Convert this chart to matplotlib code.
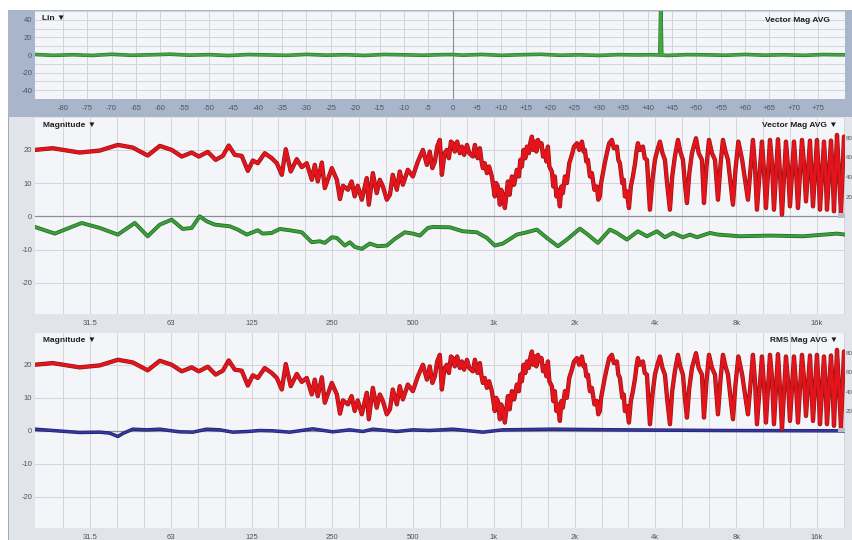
import matplotlib
matplotlib.use("Agg")
import matplotlib.pyplot as plt
from matplotlib.patches import Rectangle
from matplotlib import patheffects as pe

plt.rcParams['font.family'] = ['Liberation Sans', 'DejaVu Sans']
plt.rcParams['axes.unicode_minus'] = False

W, H = 853, 540

# ---------------- data ----------------
# impulse response (ms, linear %)
ir_time_ms = [-85.7, -82, -78, -74, -70, -66, -62, -58, -54, -50, -46, -42, -38, -34,
              -30, -26, -22, -18, -14, -10, -6, -2, 0, 2, 6, 10, 14, 18, 22, 26, 30,
              34, 38, 41, 42.5, 42.7, 42.9, 44, 48, 52, 56, 60, 64, 68, 72, 76, 80.5]
ir_level = [0.6, -0.4, 0.3, -0.5, 0.8, -0.3, 0.2, 0.9, -0.2, 0.4, -0.6, 0.5, 0.1, -0.4,
            0.7, -0.2, 0.3, -0.5, 0.6, 0.2, -0.3, 0.4, 0.5, -0.2, 0.6, -0.4, 0.3, 0.8,
            -0.3, 0.2, -0.5, 0.4, 0.1, 0.3, 0.0, 60.0, 0.0, -0.5, 0.4, 0.2, -0.3, 0.6,
            -0.2, 0.3, -0.4, 0.5, 0.2]

# measured magnitude (Hz, dB)
red_freq = [19.5, 22.7, 28.6, 34.0, 39.7, 45.1, 51.3, 56.9, 63.0, 68.7, 74.8, 79.5, 85.9,
            91.9, 97.7, 102.8, 108.3, 114.9, 121.1, 126.4, 131.9, 140, 148.7, 155.3, 162.1,
            167.7, 175, 184.3, 192.4, 200.8, 209.7, 215.1, 220.7, 228.5, 234.4, 249, 260,
            267, 274, 286, 295, 303, 311, 322, 336, 342, 354, 366, 376, 386, 399, 410, 420,
            435, 446, 458, 478, 499, 521, 544, 563, 577, 590, 603, 615, 629, 640, 655, 668,
            680, 692, 703, 715, 730, 747, 760, 775, 794, 810, 835, 850, 870, 887, 900, 910,
            925, 942, 960, 983, 995, 1008, 1020, 1035, 1053, 1065, 1080, 1099, 1128, 1145,
            1167, 1190, 1218, 1240, 1255, 1272, 1290, 1310, 1328, 1350, 1370, 1386, 1400,
            1422, 1440, 1460, 1484, 1505, 1525, 1550, 1570, 1590, 1610, 1645, 1665, 1688,
            1710, 1733, 1762, 1785, 1808, 1840, 1871, 1910, 1953, 1990, 2039, 2080, 2129,
            2160, 2184, 2210, 2241, 2280, 2319, 2370, 2421, 2450, 2484, 2510, 2549, 2590,
            2637, 2690, 2753, 2800, 2874, 2910, 2949, 3010, 3050, 3078, 3130, 3187, 3240,
            3297, 3360, 3400, 3442, 3500, 3593, 3650, 3719, 3770, 3816, 3900, 3984, 4070,
            4158, 4250, 4341, 4420, 4531, 4620, 4727, 4853, 4950, 5066, 5150, 5243, 5350,
            5473, 5665, 5800, 5964, 6067, 6200, 6334, 6500, 6669, 6842, 7000, 7141, 7300,
            7455, 7781, 7950, 8150, 8420, 8849, 9237, 9400, 9560, 9979, 10150, 10328, 10690,
            10880, 11062, 11449, 11650, 11849, 12262, 12480, 12690, 13134, 13360, 13593,
            14068, 14310, 14560, 15068, 15260, 15462, 16000, 16200, 16418, 16991, 17200,
            17434, 18043, 18280, 18514, 18997, 19330, 19659, 20173, 20350]
red_db = [20.0, 20.5, 19.2, 19.8, 21.5, 20.7, 18.3, 21.2, 20.0, 18.0, 19.2, 18.0, 19.4,
          17.0, 18.2, 21.3, 18.5, 18.2, 13.7, 16.8, 16.0, 19.0, 17.5, 16.0, 12.5,
          20.2, 13.5, 17.2, 14.8, 16.0, 11.0, 15.5, 10.5, 16.2, 8.5, 14.5, 11.0,
          5.2, 9.2, 8.0, 10.5, 6.0, 9.2, 5.0, 11.5, 3.5, 13.0, 7.0, 11.0, 9.0, 5.0, 6.5, 12.5,
          8.0, 13.5, 9.5, 14.0, 12.0, 16.5, 20.0, 15.5, 19.5, 14.5, 16.5, 21.0, 23.0, 12.5, 19.0, 20.0,
          17.5, 22.5, 22.0, 19.5, 22.5, 19.0, 21.0, 18.5, 21.5, 19.0, 18.0, 21.5, 17.5, 20.5, 16.5, 14.5,
          16.0, 13.0, 15.0, 12.0, 9.0, 6.0, 10.0, 9.0, 3.5, 8.0, 6.5, 2.5, 10.5, 6.5,
          12.0, 9.5, 14.0, 12.0, 17.0, 15.0, 20.0, 17.5, 21.0, 19.0, 22.5, 24.0, 20.0,
          22.5, 19.5, 23.0, 21.0, 22.0, 18.0, 19.5, 16.5, 21.0, 15.0, 13.5, 9.0, 12.0,
          6.0, 8.0, 3.0, 9.0, 7.0, 12.0, 10.0, 16.0, 18.5, 21.0, 22.0, 20.0, 22.5,
          19.5, 20.0, 16.5, 17.0, 12.0, 13.0, 8.0, 9.0, 5.0, 6.0, 10.0, 13.0, 16.0,
          19.0, 22.0, 23.0, 20.5, 21.0, 17.0, 16.0, 10.0, 11.0, 6.0, 7.5, 2.5, 9.0,
          12.0, 16.0, 19.5, 22.0, 20.0, 21.0, 17.5, 17.0, 9.0, 2.0, 11.0, 17.0, 20.0,
          22.5, 19.0, 17.0, 10.0, 2.0, 12.0, 18.0, 23.0, 19.5, 17.0, 10.0, 4.0, 13.0,
          19.0, 23.5, 19.0, 17.0, 4.0, 15.0, 23.0, 19.0, 17.0, 5.0, 16.0, 23.0, 19.5,
          17.0, 3.5, 14.0, 22.5, 17.0, 5.0, 23.0, 15.0, 2.0, 22.5, 14.0, 2.5, 23.0,
          16.0, 2.0, 23.2, 13.0, 0.5, 22.5, 15.0, 3.0, 22.5, 14.0, 2.5,
          23.0, 16.0, 4.5, 22.8, 13.0, 3.0, 23.0, 14.0, 2.0, 22.5, 15.0,
          2.0, 22.8, 14.0, 1.5, 24.5, 13.0, 1.0, 24.0, 22.0]

# vector-average trace (Hz, dB)
green_freq = [19.5, 23.1, 29.1, 34.0, 39.7, 45.9, 51.3, 56.9, 63.0, 69.3, 74.8, 80.1, 85.1,
              91.2, 103.7, 111.1, 120, 131.9, 137.6, 148.7, 159.3, 173.6, 192.4, 209.7,
              224.5, 234.4, 249, 260, 278.4, 290.6, 303, 322, 344.9, 369.4, 399, 427.5,
              465.9, 499, 530, 567.6, 592.4, 685, 766, 864, 942, 1008, 1080, 1218, 1328,
              1446, 1576, 1733, 1871, 2092, 2241, 2441, 2707, 2874, 3132, 3442, 3719, 4052,
              4341, 4648, 5066, 5379, 5712, 6386, 6842, 7389, 8262, 10690, 14190, 18997, 20350]
green_db = [-3.2, -5.2, -2.0, -3.5, -5.5, -2.0, -6.0, -2.5, -1.0, -3.8, -3.5, 0.0, -1.5,
            -2.5, -3.0, -4.0, -5.5, -4.2, -5.2, -5.0, -3.8, -4.2, -4.8, -7.8,
            -7.5, -8.0, -6.3, -6.5, -8.8, -7.8, -9.2, -9.8, -8.2, -9.0, -8.8, -6.8,
            -4.8, -5.2, -5.8, -3.5, -3.2, -3.3, -4.5, -4.8, -6.5, -8.8, -8.2, -5.5, -4.8,
            -4.0, -6.5, -9.0, -7.0, -3.7, -5.5, -8.0, -4.0, -5.0, -7.0, -4.5, -6.0, -4.5,
            -6.3, -5.0, -6.3, -5.5, -6.3, -5.0, -5.5, -5.7, -6.0, -5.8, -6.0, -5.2, -5.5]

# RMS-average trace (Hz, dB)
blue_freq = [19.5, 22.7, 28.6, 34.0, 37.0, 39.7, 41.7, 45.1, 50.9, 56.9, 63.0, 67.5, 75.5,
             85.1, 95.2, 106.4, 121.1, 134.1, 150, 173.6, 211.5, 251, 290.6, 324.9, 354,
             435, 499, 577, 703, 910, 1080, 1659, 2949, 6960, 20000, 20350]
blue_db = [0.5, 0.1, -0.5, -0.4, -0.7, -1.7, -0.7, 0.5, 0.3, 0.5, 0.0, -0.3, -0.4,
           0.5, 0.3, -0.4, -0.2, 0.1, 0.0, -0.4, 0.6, -0.3, 0.3, -0.2, 0.5,
           -0.2, 0.3, 0.1, 0.5, -0.4, 0.3, 0.5, 0.3, 0.1, 0.0, 0.0]

time_ticks = list(range(-80, 80, 5))
time_labels = [("+%d" % t) if t > 0 else str(t) for t in time_ticks]
freq_ticks = [31.25, 62.5, 125, 250, 500, 1000, 2000, 4000, 8000, 16000]
freq_labels = ['31.5', '63', '125', '250', '500', '1k', '2k', '4k', '8k', '16k']
coh_ticks = [20, 40, 60, 80]
coh_labels = ['20', '40', '60', '80']

# ---------------- styling ----------------
FRAME_TOP = '#a9b5cb'
FRAME_LOW = '#e1e4ea'
PLOT_BG = '#f4f5f8'
GRID = '#d2d5dc'
TICK = '#555555'
TITLE = '#1e1e1e'

fig = plt.figure(figsize=(W / 100, H / 100), dpi=100)
fig.patch.set_facecolor('white')


def frac_rect(x0, y0, x1, y1):
    return [x0 / W, 1 - y1 / H, (x1 - x0) / W, (y1 - y0) / H]


def band(x0, y0, x1, y1, color, z=0):
    fig.add_artist(Rectangle((x0 / W, 1 - y1 / H), (x1 - x0) / W, (y1 - y0) / H,
                             transform=fig.transFigure, facecolor=color,
                             edgecolor='none', zorder=z))


band(8, 10, 853, 117, FRAME_TOP)
band(8, 117, 853, 540, FRAME_LOW)
band(8, 117, 9, 540, '#a4a9b2', z=1)


def base_axes(rect):
    ax = fig.add_axes(frac_rect(*rect))
    ax.set_facecolor(PLOT_BG)
    for s in ax.spines.values():
        s.set_visible(False)
    ax.tick_params(which='both', length=0, labelsize=5.5, labelcolor=TICK)
    ax.set_axisbelow(True)
    return ax


def stroke(width, color):
    return [pe.Stroke(linewidth=width, foreground=color), pe.Normal()]


# ---- impulse response panel ----
ax_t = base_axes((35, 11, 845, 99))
ax_t.set_xlim(-85.7, 80.5)
ax_t.set_ylim(-50, 50)
ax_t.set_xticks(time_ticks)
ax_t.set_xticklabels(time_labels)
ax_t.set_yticks([-40, -20, 0, 20, 40])
ax_t.set_yticks(range(-50, 51, 10), minor=True)
ax_t.grid(True, which='both', color=GRID, lw=0.7)
ax_t.tick_params(axis='x', pad=4.2)
ax_t.tick_params(axis='y', pad=2)
ax_t.axvline(0, color='#8a8d94', lw=0.8, zorder=1)
ax_t.plot(ir_time_ms, ir_level, color='#44a544', lw=1.6, zorder=3,
          path_effects=stroke(2.6, '#2c7a2c'))
ax_t.text(0.009, 0.915, 'Lin ▼', transform=ax_t.transAxes, ha='left', va='center',
          fontsize=6, fontweight='bold', color=TITLE)
ax_t.text(0.981, 0.895, 'Vector Mag AVG', transform=ax_t.transAxes, ha='right',
          va='center', fontsize=6, fontweight='bold', color=TITLE)

# ---- magnitude panels ----
third_octaves = [1000 * 2 ** (k / 3) for k in range(-16, 14)]
YLO, YHI = -29.4, 29.6


def mag_axes(rect, title_right):
    ax = base_axes(rect)
    ax.set_xscale('log')
    ax.set_xlim(19.5, 20350)
    ax.set_ylim(YLO, YHI)
    ax.set_xticks(third_octaves, minor=True)
    ax.set_xticks(freq_ticks)
    ax.set_xticklabels(freq_labels)
    ax.xaxis.set_minor_formatter(plt.NullFormatter())
    ax.set_yticks([-20, -10, 0, 10, 20])
    ax.grid(True, which='both', axis='x', color=GRID, lw=0.7)
    ax.grid(True, which='major', axis='y', color=GRID, lw=0.7)
    ax.tick_params(axis='x', pad=4.2)
    ax.tick_params(axis='y', pad=2)
    ax.axhline(0, color='#8c8f96', lw=0.9, zorder=1)
    ax.text(0.01, 0.964, 'Magnitude ▼', transform=ax.transAxes, ha='left', va='center',
            fontsize=6, fontweight='bold', color=TITLE)
    ax.text(0.991, 0.964, title_right, transform=ax.transAxes, ha='right', va='center',
            fontsize=6, fontweight='bold', color=TITLE)
    # coherence scale on the right
    axc = ax.twinx()
    axc.set_ylim(YLO / YHI * 100, 100)
    axc.set_yticks(coh_ticks)
    axc.set_yticklabels(coh_labels)
    axc.tick_params(length=0, labelsize=4.5, labelcolor=TICK, pad=0.3)
    for s in axc.spines.values():
        s.set_visible(False)
    # small scale badge at the bottom-right of the coherence area
    ax.add_patch(Rectangle((0.991, 0.49), 0.009, 0.025, transform=ax.transAxes,
                           facecolor='#b9bdc5', edgecolor='none', zorder=5))
    return ax


ax_m = mag_axes((35, 118, 845, 314), 'Vector Mag AVG ▼')
ax_m.plot(green_freq, green_db, color='#3c9f3c', lw=1.7, zorder=3,
          path_effects=stroke(2.8, '#236d23'))
ax_m.plot(red_freq, red_db, color='#e3141c', lw=2.2, zorder=4,
          path_effects=stroke(3.1, '#8e1616'))

ax_b = mag_axes((35, 333, 845, 528), 'RMS Mag AVG ▼')
ax_b.plot(blue_freq, blue_db, color='#3636a2', lw=1.5, zorder=3,
          path_effects=stroke(2.5, '#1f1f68'))
ax_b.plot(red_freq, red_db, color='#e3141c', lw=2.2, zorder=4,
          path_effects=stroke(3.1, '#8e1616'))

fig.savefig('out.png', dpi=100, facecolor=fig.get_facecolor())
